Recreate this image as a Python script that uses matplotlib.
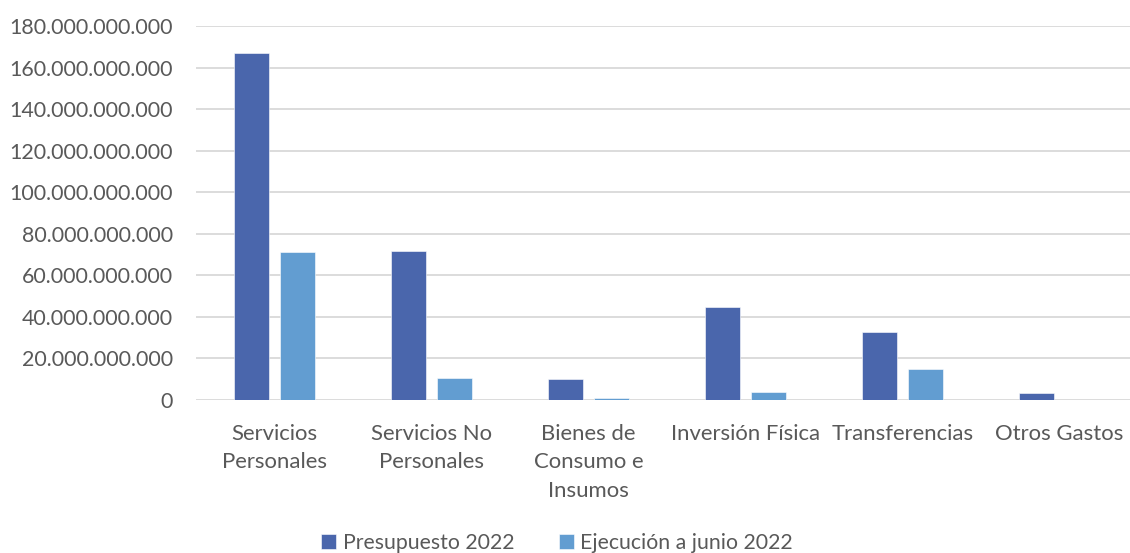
import matplotlib
matplotlib.use("Agg")
import matplotlib.pyplot as plt
from matplotlib.ticker import FuncFormatter, MultipleLocator
import numpy as np

categories = ["Servicios\nPersonales", "Servicios No\nPersonales", "Bienes de\nConsumo e\nInsumos",
              "Inversión Física", "Transferencias", "Otros Gastos"]
presupuesto = [167.2e9, 71.5e9, 10.1e9, 45.0e9, 32.6e9, 3.4e9]
ejecucion = [71.1e9, 10.8e9, 1.0e9, 3.9e9, 14.8e9, 0.0]
series_names = ["Presupuesto 2022", "Ejecución a junio 2022"]

plt.rcParams['font.family'] = ['Lato', 'DejaVu Sans']
TXT = '#595959'
C1 = '#4A66AC'
C2 = '#629DD1'

fig = plt.figure(figsize=(11.3, 5.53), dpi=100)
ax = fig.add_axes([196/1130, 1-400/553, 942/1130, 374/553])

x = np.arange(len(categories))
w = 0.222
off = 0.144
ax.bar(x - off, presupuesto, width=w, color=C1, edgecolor='white', linewidth=0.4, label=series_names[0], zorder=3)
ax.bar(x + off, ejecucion, width=w, color=C2, edgecolor='white', linewidth=0.4, label=series_names[1], zorder=3)

ax.set_xlim(-0.5, len(categories) - 0.5)
ax.set_ylim(0, 180e9)
ax.yaxis.set_major_locator(MultipleLocator(20e9))
ax.yaxis.set_major_formatter(FuncFormatter(lambda v, p: f"{int(round(v)):,}".replace(",", ".")))
ax.grid(axis='y', color='#D9D9D9', linewidth=1.3, zorder=0)
for s in ax.spines.values():
    s.set_visible(False)
ax.tick_params(axis='both', length=0, labelcolor=TXT)
ax.tick_params(axis='y', pad=16.5, labelsize=15.4)
ax.tick_params(axis='x', pad=17, labelsize=15.9)
ax.set_xticks(x)
ax.set_xticklabels(categories, linespacing=1.55, va='top')

fig.legend(loc='center', bbox_to_anchor=(557/1130, 1-543/553), ncol=2, frameon=False,
           fontsize=15.3, labelcolor=TXT, handlelength=0.7, handleheight=0.7,
           handletextpad=0.3, columnspacing=2.1, borderpad=0)

fig.savefig("out.png", dpi=100, facecolor='white')
